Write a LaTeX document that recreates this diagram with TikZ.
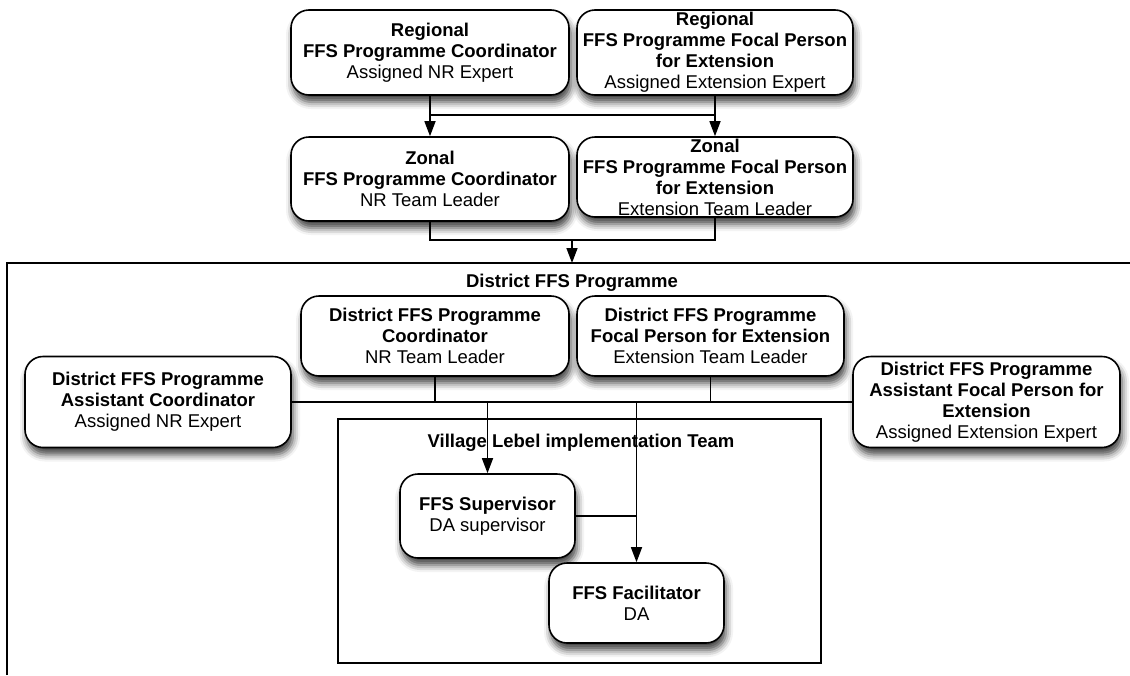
\documentclass[tikz,border=0pt]{standalone}
\usepackage{fontspec}
\setmainfont{Liberation Sans}
\usetikzlibrary{arrows.meta,shadows.blur}

\newcommand\hd[1]{\textbf{#1}}

\tikzset{
  orgbox/.style={draw, line width=1.6pt, rounded corners=18pt, fill=white,
    align=center, inner sep=0pt,
    blur shadow={shadow xshift=2pt, shadow yshift=-7pt, shadow blur radius=7pt, shadow opacity=75}},
  link/.style={line width=1.5pt},
  flow/.style={line width=1.5pt, -{Triangle[length=15pt, width=11pt]}},
  frame/.style={line width=1.3pt}
}

\begin{document}
\begin{tikzpicture}[x=1pt, y=-1pt, font=\fontsize{18.5}{21}\selectfont]
\useasboundingbox (0,0) rectangle (1130,675);

% regional level
\node[orgbox, minimum width=278pt, minimum height=85pt] (r1) at (430,52.5)
  {\hd{Regional}\\\hd{FFS Programme Coordinator}\\Assigned NR Expert};
\node[orgbox, minimum width=276pt, minimum height=85pt] (r2) at (715,52.5)
  {\hd{Regional}\\\hd{FFS Programme Focal Person}\\\hd{for Extension}\\Assigned Extension Expert};

% zonal level
\node[orgbox, minimum width=278pt, minimum height=84pt] (z1) at (430,179)
  {\hd{Zonal}\\\hd{FFS Programme Coordinator}\\NR Team Leader};
\node[orgbox, minimum width=276pt, minimum height=80pt] (z2) at (715,177)
  {\hd{Zonal}\\\hd{FFS Programme Focal Person}\\\hd{for Extension}\\Extension Team Leader};

\coordinate (jt) at (0,115);
\coordinate (jz) at (0,240);
\coordinate (mid) at (572,240);
\coordinate (ftop) at (572,263);

\draw[flow] (r1.south) -- (z1.north);
\draw[flow] (r2.south) -- (z2.north);
\draw[link] (r1.south |- jt) -- (r2.south |- jt);
\draw[link] (z1.south) -- (z1.south |- jz) -- (z2.south |- jz) -- (z2.south);
\draw[flow] (mid) -- (ftop);

% district programme frame
\draw[frame] (7,675) -- (7,263) -- (1130,263);
\node (dhead) at (572,283) {\hd{District FFS Programme}};

\node[orgbox, minimum width=268pt, minimum height=80pt] (dc) at (435,336)
  {\hd{District FFS Programme}\\\hd{Coordinator}\\NR Team Leader};
\node[orgbox, minimum width=267pt, minimum height=80pt] (df) at (710.5,336)
  {\hd{District FFS Programme}\\\hd{Focal Person for Extension}\\Extension Team Leader};
\node[orgbox, minimum width=266pt, minimum height=91pt] (dac) at (158,402)
  {\hd{District FFS Programme}\\\hd{Assistant Coordinator}\\Assigned NR Expert};
\node[orgbox, minimum width=267pt, minimum height=91pt] (daf) at (986.5,402)
  {\hd{District FFS Programme}\\\hd{Assistant Focal Person for}\\\hd{Extension}\\Assigned Extension Expert};

% village level team
\node[draw, frame, minimum width=483pt, minimum height=244pt, inner sep=0pt] (vil) at (579.5,541) {};
\node (vhead) at (581,443) {\hd{Village Lebel implementation Team}};

\node[orgbox, minimum width=175pt, minimum height=84pt] (sup) at (487.5,516)
  {\hd{FFS Supervisor}\\DA supervisor};
\node[orgbox, minimum width=175pt, minimum height=80pt] (fac) at (636.5,603)
  {\hd{FFS Facilitator}\\DA};

\draw[link] (dac.east) -- (daf.west);
\draw[link] (dc.south) -- (dc.south |- dac.east);
\draw[link] (df.south) -- (df.south |- daf.west);
\draw[flow] (sup.north |- dac.east) -- (sup.north);
\draw[flow] (fac.north |- daf.west) -- (fac.north);
\draw[link] (sup.east) -- (fac.north |- sup.east);
\end{tikzpicture}
\end{document}
